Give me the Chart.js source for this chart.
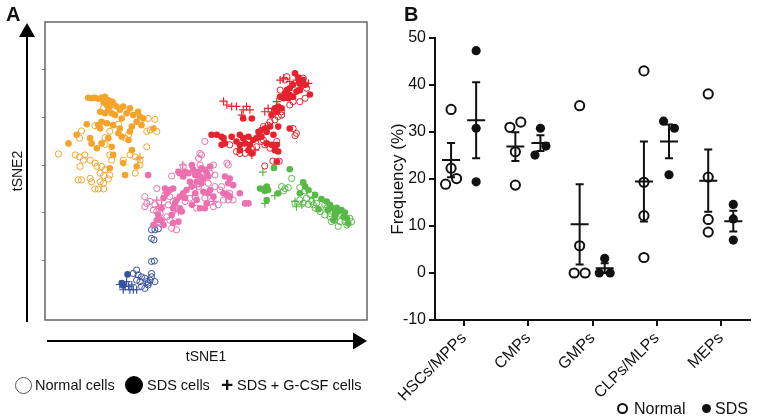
<!DOCTYPE html>
<html>
<head>
<meta charset="utf-8">
<script src="https://cdn.jsdelivr.net/npm/chart.js@4.4.1/dist/chart.umd.min.js"></script>
<style>
  body { margin: 0; background: #fff; font-family: "Liberation Sans", Arial, sans-serif; color: #111; }
  #wrap { position: relative; width: 761px; height: 420px; overflow: hidden; }
  canvas { position: absolute; top: 0; }
  #chartA { left: 0; }
  #chartB { left: 380px; }
  .lbl { position: absolute; white-space: nowrap; }
  .panel { font-weight: bold; font-size: 20px; line-height: 20px; }
  .legA { font-size: 14.5px; line-height: 16px; top: 377px; }
  .legB { font-size: 16px; line-height: 18px; top: 400px; }
  .dot { position: absolute; border-radius: 50%; box-sizing: border-box; }
</style>
</head>
<body>
<div id="wrap">
  <canvas id="chartA" width="380" height="420"></canvas>
  <canvas id="chartB" width="381" height="420"></canvas>

  <div class="lbl panel" style="left:6px; top:4px;">A</div>
  <div class="lbl panel" style="left:404px; top:4px;">B</div>

  <!-- legend A -->
  <div class="dot" style="left:15px; top:377px; width:17px; height:17px; border:1px solid #555;"></div>
  <div class="lbl legA" style="left:35px;">Normal cells</div>
  <div class="dot" style="left:125px; top:376px; width:18px; height:18px; background:#000;"></div>
  <div class="lbl legA" style="left:147px;">SDS cells</div>
  <div class="lbl" style="left:221px; top:374px; font-size:21px; line-height:22px; font-weight:bold;">+</div>
  <div class="lbl legA" style="left:237px;">SDS + G-CSF cells</div>

  <!-- legend B -->
  <div class="dot" style="left:617px; top:403px; width:11px; height:11px; border:2px solid #111;"></div>
  <div class="lbl legB" style="left:634px;">Normal</div>
  <div class="dot" style="left:702px; top:404px; width:9px; height:9px; background:#111;"></div>
  <div class="lbl legB" style="left:715px;">SDS</div>
</div>

<script>
// ---------- panel A: tSNE coordinates ----------
const orangeNormal = [
  [2.8,32.3],[7.6,37.1],[7.2,35.6],[12.2,41.8],[12.5,35.7],[12.5,34.3],[15.3,38.5],[17.4,36.3],
  [21.5,39.7],[22.9,39.5],[21.9,37.3],[23.3,37.0],[21.2,37.0],[21.2,33.8],[17.7,32.1],[18.8,31.7],
  [19.8,31.0],[6.3,32.1],[7.2,31.7],[8.0,31.0],[8.3,32.1],[7.3,29.7],[10.4,30.4],[10.8,29.7],
  [11.8,29.7],[12.5,29.0],[11.5,28.3],[12.2,27.8],[13.5,27.9],[13.2,27.1],[6.9,26.9],[7.6,26.9],
  [9.4,27.2],[9.7,26.5],[11.5,26.5],[12.2,26.2],[10.4,25.0],[11.1,25.0],[12.2,25.0],[18.8,28.3],
  [19.8,30.0],[16.3,31.0],[13.5,32.1],[13.9,31.0],[10.4,38.2],[13.5,37.0],[16.7,35.6],[9.4,31.0]
];
const orangeSDS = [
  [9.0,44.0],[9.7,43.9],[10.4,44.0],[11.1,43.8],[11.8,44.0],[12.5,44.2],[13.2,43.5],[13.9,43.2],
  [12.2,43.1],[12.9,42.5],[13.5,42.2],[14.2,42.9],[14.9,42.2],[15.6,41.5],[13.2,41.5],[13.9,40.8],
  [12.5,40.8],[11.5,41.1],[14.6,40.4],[16.3,42.2],[17.7,41.8],[17.0,40.8],[16.0,39.7],[18.4,40.4],
  [19.4,41.1],[19.8,40.1],[20.5,39.7],[19.1,39.0],[18.1,38.0],[20.1,38.3],[17.7,37.0],[15.6,37.6],
  [14.2,38.3],[12.9,38.7],[11.8,39.0],[11.1,38.3],[11.5,37.6],[8.7,38.5],[15.3,36.6],[16.0,35.9],
  [17.4,35.2],[13.2,35.6],[11.8,34.5],[9.4,35.6],[9.7,34.5],[6.6,36.3],[4.9,34.5],[10.8,33.5],
  [13.9,33.8],[14.2,32.1],[16.3,30.4],[18.1,33.1],[13.5,29.3],[16.7,27.9],[19.1,29.7],[22.6,37.6]
];
const orangeGCSF = [[19.4,31.3],[19.8,31.6]];

const redNormal = [
  [49.0,45.6],[50.0,47.7],[50.4,48.4],[53.8,48.1],[54.5,46.0],[53.1,43.2],[51.7,43.2],[51.0,42.5],
  [54.2,43.9],[48.6,40.1],[49.3,40.4],[47.9,39.4],[46.9,39.0],[46.5,38.3],[45.5,38.0],[44.8,36.3],
  [45.1,34.9],[45.8,34.2],[46.9,33.5],[40.6,32.4],[41.7,32.4],[48.3,34.9],[52.4,36.6],[52.1,36.1],
  [51.7,37.6],[49.3,41.1],[38.5,34.2],[44.1,33.8],[39.9,32.8],[45.5,35.2],[45.8,29.8],[47.5,30.8],
  [48.8,30.8]
];
const redSDS = [
  [52.1,49.1],[52.8,48.2],[53.8,47.7],[53.1,47.0],[54.2,46.7],[51.7,46.7],[51.0,46.0],[50.4,45.6],
  [50.0,44.9],[51.0,44.6],[50.7,43.9],[51.7,44.2],[52.4,45.3],[53.1,45.6],[49.7,43.9],[49.0,44.2],
  [55.2,44.7],[47.9,41.8],[48.6,42.2],[49.3,41.8],[48.3,41.1],[47.2,40.4],[43.1,39.7],[41.3,39.7],
  [51.0,37.6],[34.7,36.3],[35.8,36.3],[36.8,35.9],[37.2,35.6],[38.9,35.9],[40.6,36.3],[41.3,35.6],
  [42.4,35.9],[41.7,34.5],[40.6,34.2],[39.9,34.9],[42.7,34.2],[43.4,35.2],[44.1,35.6],[44.5,36.9],
  [45.1,37.3],[45.8,37.6],[46.9,38.0],[46.2,36.9],[47.6,36.3],[48.3,34.2],[47.2,34.2],[47.9,33.1],
  [48.6,32.8],[43.1,32.4],[42.4,33.1],[40.6,33.1],[36.8,34.2],[37.5,34.5],[48.6,38.0],[48.3,30.7],
  [46.2,34.5],[45.1,35.9]
];
const redGCSF = [
  [37.2,43.3],[37.9,42.5],[38.9,42.2],[39.9,42.2],[41.3,41.5],[42.0,42.2],[42.7,41.5],[41.0,40.4],
  [45.8,41.1],[46.5,41.8],[47.2,41.1],[49.0,47.7],[49.7,48.1],[53.1,46.0],[53.5,46.5],[54.9,47.0],
  [52.4,47.7],[43.8,33.1],[43.1,32.1],[48.3,43.2],[51.0,47.4]
];

const pinkNormal = [
  [33.3,34.9],[32.3,32.4],[32.0,31.4],[32.6,32.1],[28.8,29.7],[32.3,30.0],[35.1,30.0],[35.4,27.9],
  [37.9,30.4],[38.2,30.0],[26.4,27.7],[23.3,25.1],[25.0,23.8],[26.0,23.4],[26.7,22.4],[20.8,23.4],
  [21.2,22.0],[21.9,22.4],[22.9,21.7],[20.8,21.3],[22.6,20.6],[23.3,20.3],[24.0,19.9],[25.4,19.2],
  [26.4,16.8],[27.4,16.5],[26.0,18.5],[29.2,22.4],[30.2,23.1],[31.3,23.4],[32.0,25.5],[34.0,26.2],
  [35.4,25.5],[36.8,25.5],[37.2,22.7],[38.2,22.7],[39.2,22.7],[36.1,21.7],[34.7,22.4],[35.1,21.3],
  [33.3,23.1],[36.5,24.8],[38.5,24.1],[34.4,28.3],[31.6,21.0],[25.7,21.7],[23.6,18.2]
];
const pinkSDS = [
  [21.5,27.9],[27.8,28.6],[28.1,28.3],[29.2,28.6],[28.8,27.6],[29.9,28.3],[30.6,30.0],[30.9,29.0],
  [31.3,27.9],[32.0,28.6],[32.6,29.3],[33.3,29.0],[33.7,28.3],[32.3,27.6],[33.0,27.2],[34.0,27.6],
  [34.4,29.7],[31.6,26.5],[32.6,26.2],[30.6,25.5],[29.5,24.8],[28.8,24.1],[28.1,23.4],[29.2,23.1],
  [27.4,22.7],[27.1,22.0],[28.1,21.0],[28.5,20.3],[26.7,21.0],[26.0,24.8],[25.4,24.1],[25.0,25.1],
  [26.7,25.1],[24.3,21.0],[23.6,19.6],[23.3,18.5],[24.3,18.5],[24.7,17.5],[22.6,17.5],[26.4,19.6],
  [26.7,17.9],[27.8,18.2],[30.2,26.5],[31.3,24.1],[33.0,24.4],[34.0,24.1],[34.4,24.8],[35.1,23.4],
  [33.7,22.0],[33.3,21.0],[32.3,21.0],[37.5,27.6],[38.5,27.2],[38.2,26.2],[39.2,25.8],[37.2,24.1],
  [37.9,23.8],[38.5,23.4],[40.6,24.1],[41.7,22.0],[42.4,22.0],[31.6,22.7],[30.6,21.7],[24.7,23.1]
];
const pinkGCSF = [
  [28.7,30.0],[31.6,25.5],[23.3,22.7],[27.1,20.6],[24.3,21.7],[35.1,22.4],[37.9,24.1],[27.8,20.3],
  [23.6,21.3]
];

const greenNormal = [
  [49.3,25.5],[50.0,25.1],[50.7,25.3],[49.7,24.6],[53.1,25.3],[54.2,24.6],[55.2,23.9],[54.5,23.1],
  [55.6,22.4],[55.9,21.7],[53.1,22.7],[53.8,22.0],[54.9,21.8],[58.3,21.7],[59.4,19.9],[56.3,21.0],
  [57.3,20.3],[58.3,19.6],[59.4,19.2],[60.4,18.5],[61.5,18.2],[62.5,18.2],[63.5,18.9],[63.9,18.2],
  [61.1,17.2],[62.9,17.5],[59.7,18.2],[51.4,27.2],[58.7,21.0],[56.6,22.0],[52.1,22.0],[61.8,19.6]
];
const greenSDS = [
  [47.7,29.4],[51.0,29.1],[44.8,25.1],[45.5,25.0],[46.2,25.5],[46.5,24.8],[45.8,24.6],[46.2,22.7],
  [48.6,24.1],[53.8,26.4],[54.2,25.5],[54.9,24.8],[53.1,24.1],[56.3,23.8],[57.6,22.9],[58.7,22.4],
  [59.4,21.7],[57.0,20.8],[59.0,20.6],[60.1,21.0],[60.8,21.1],[61.1,20.3],[60.4,19.9],[61.8,20.6],
  [62.5,20.1],[62.2,19.2],[60.4,19.2],[60.1,18.5],[62.9,18.9],[63.2,17.8]
];
const greenGCSF = [[45.4,28.5],[45.8,22.0],[47.9,23.6],[52.1,22.4],[53.5,21.7],[55.9,23.2],[52.4,21.3]];

const blueNormal = [
  [22.2,16.5],[22.9,16.5],[23.6,16.7],[22.2,14.7],[22.7,14.4],[22.2,9.9],[22.8,10.0],[19.1,8.1],
  [18.4,7.4],[19.4,7.1],[20.1,6.7],[20.8,6.4],[21.2,5.7],[21.5,5.4],[21.9,6.0],[22.2,6.7],
  [22.2,7.4],[22.9,5.7],[19.1,6.0],[20.1,4.7],[20.8,4.3],[21.5,5.0],[19.8,5.7]
];
const blueSDS = [[17.2,7.2],[16.0,5.4],[16.3,4.9]];
const blueGCSF = [[15.6,5.1],[16.7,4.7],[17.4,4.7],[18.1,5.0],[18.4,4.0],[17.7,4.0],[19.1,4.0],[17.0,5.7],[16.3,4.0]];

// ---------- panel B: frequencies (%) per mouse ----------
const categories = ['HSCs/MPPs', 'CMPs', 'GMPs', 'CLPs/MLPs', 'MEPs'];
const normalValues = [
  [34.8, 22.3, 18.9, 20.1],
  [31.0, 32.1, 25.8, 18.7],
  [35.6, 5.8, 0, 0],
  [43.0, 19.3, 12.2, 3.3],
  [38.1, 20.4, 8.7, 11.4]
];
const sdsValues = [
  [47.3, 30.8, 19.4],
  [30.8, 25.1, 27.0],
  [3.1, 0, 0],
  [32.3, 30.8, 20.9],
  [14.6, 11.5, 7.0]
];

Chart.defaults.font.family = '"Liberation Sans", Arial, sans-serif';
Chart.defaults.color = '#111';

// ---------- chart A ----------
const clusters = [
  { color: '#f5a42b', normal: orangeNormal, sds: orangeSDS, gcsf: orangeGCSF },
  { color: '#e4232e', normal: redNormal, sds: redSDS, gcsf: redGCSF },
  { color: '#ec6fae', normal: pinkNormal, sds: pinkSDS, gcsf: pinkGCSF },
  { color: '#58b947', normal: greenNormal, sds: greenSDS, gcsf: greenGCSF },
  { color: '#34509f', normal: blueNormal, sds: blueSDS, gcsf: blueGCSF }
];
const toXY = arr => arr.map(p => ({ x: p[0], y: p[1] }));
const datasetsA = [];
clusters.forEach(c => {
  datasetsA.push({ data: toXY(c.normal), pointStyle: 'circle', pointRadius: 3.1, borderWidth: 1,
    borderColor: c.color, backgroundColor: 'rgba(255,255,255,0)' });
  datasetsA.push({ data: toXY(c.sds), pointStyle: 'circle', pointRadius: 3.3, borderWidth: 0,
    borderColor: c.color, backgroundColor: c.color });
  datasetsA.push({ data: toXY(c.gcsf), pointStyle: 'cross', pointRadius: 4, borderWidth: 1.2,
    borderColor: c.color, backgroundColor: c.color });
});

const frameAndArrows = {
  id: 'frameAndArrows',
  afterDraw(chart) {
    const { ctx, chartArea: a } = chart;
    ctx.save();
    ctx.strokeStyle = '#666';
    ctx.lineWidth = 1.5;
    ctx.strokeRect(a.left, a.top, a.right - a.left, a.bottom - a.top);
    ctx.strokeStyle = '#000';
    ctx.fillStyle = '#000';
    ctx.lineWidth = 2;
    // tSNE2 arrow
    const vx = a.left - 18;
    ctx.beginPath(); ctx.moveTo(vx, a.bottom + 2); ctx.lineTo(vx, a.top + 12); ctx.stroke();
    ctx.beginPath(); ctx.moveTo(vx, a.top + 1); ctx.lineTo(vx - 8, a.top + 15); ctx.lineTo(vx + 8, a.top + 15);
    ctx.closePath(); ctx.fill();
    // tSNE1 arrow
    const hy = a.bottom + 21;
    ctx.beginPath(); ctx.moveTo(a.left + 2, hy); ctx.lineTo(a.right - 10, hy); ctx.stroke();
    ctx.beginPath(); ctx.moveTo(a.right, hy); ctx.lineTo(a.right - 14, hy - 8.5); ctx.lineTo(a.right - 14, hy + 8.5);
    ctx.closePath(); ctx.fill();
    ctx.restore();
  }
};

new Chart(document.getElementById('chartA'), {
  type: 'scatter',
  data: { datasets: datasetsA },
  plugins: [frameAndArrows],
  options: {
    responsive: false,
    animation: false,
    layout: { padding: { top: 22, right: 13, left: 0, bottom: 0 } },
    plugins: { legend: { display: false }, tooltip: { enabled: false } },
    scales: {
      x: {
        min: 0, max: 67.1,
        ticks: { display: false },
        grid: { display: false },
        border: { display: false },
        title: { display: true, text: 'tSNE1', font: { size: 14 }, color: '#111', padding: { top: 0, bottom: 54.6 } },
        afterFit: s => { s.height = 100; }
      },
      y: {
        min: -2.3, max: 59.8,
        ticks: { display: false, stepSize: 10 },
        afterBuildTicks: s => { s.ticks = s.ticks.filter(t => Math.abs(t.value % 10) < 1e-6); },
        grid: { drawOnChartArea: false, drawTicks: true, tickLength: 3, color: '#777', lineWidth: 1 },
        border: { display: false },
        title: { display: true, text: 'tSNE2', font: { size: 14 }, color: '#111', padding: { top: 9.6, bottom: 0 } },
        afterFit: s => { s.width = 45; }
      }
    }
  }
});

// ---------- chart B ----------
const normalShift = -0.2;
const sdsShift = 0.19;

// spread points that would overlap horizontally (like a column scatter)
function spread(vals) {
  const order = vals.map((v, i) => i).sort((a, b) => vals[a] - vals[b]);
  const off = vals.map(() => 0);
  let i = 0;
  while (i < order.length) {
    let j = i;
    while (j + 1 < order.length && vals[order[j + 1]] - vals[order[j]] < 2) j++;
    const grp = order.slice(i, j + 1).sort((a, b) => a - b);
    grp.forEach((idx, k) => { off[idx] = (k - (grp.length - 1) / 2) * 0.17; });
    i = j + 1;
  }
  return off;
}
function points(groups, shift) {
  const out = [];
  groups.forEach((vals, c) => {
    const off = spread(vals);
    vals.forEach((v, k) => out.push({ x: c + shift + off[k], y: v }));
  });
  return out;
}

const meanSem = {
  id: 'meanSem',
  afterDatasetsDraw(chart) {
    const { ctx, scales: { x, y } } = chart;
    ctx.save();
    ctx.strokeStyle = '#111';
    ctx.lineWidth = 2;
    [[normalValues, normalShift], [sdsValues, sdsShift]].forEach(([groups, shift]) => {
      groups.forEach((vals, c) => {
        const n = vals.length;
        const mean = vals.reduce((s, v) => s + v, 0) / n;
        const sd = Math.sqrt(vals.reduce((s, v) => s + (v - mean) ** 2, 0) / (n - 1));
        const sem = sd / Math.sqrt(n);
        const cx = x.getPixelForValue(c + shift);
        const ym = y.getPixelForValue(mean);
        const yt = y.getPixelForValue(mean + sem);
        const yb = y.getPixelForValue(mean - sem);
        ctx.beginPath();
        ctx.moveTo(cx, yt); ctx.lineTo(cx, yb);
        ctx.moveTo(cx - 4, yt); ctx.lineTo(cx + 4, yt);
        ctx.moveTo(cx - 4, yb); ctx.lineTo(cx + 4, yb);
        ctx.moveTo(cx - 9, ym); ctx.lineTo(cx + 9, ym);
        ctx.stroke();
      });
    });
    ctx.restore();
  }
};

new Chart(document.getElementById('chartB'), {
  type: 'scatter',
  data: {
    datasets: [
      { label: 'Normal', data: points(normalValues, normalShift), pointStyle: 'circle', pointRadius: 4.6,
        borderWidth: 2, borderColor: '#111', backgroundColor: 'rgba(255,255,255,0)' },
      { label: 'SDS', data: points(sdsValues, sdsShift), pointStyle: 'circle', pointRadius: 4.6,
        borderWidth: 0, borderColor: '#111', backgroundColor: '#111' }
    ]
  },
  plugins: [meanSem],
  options: {
    responsive: false,
    animation: false,
    layout: { padding: { top: 38, right: 11, left: 0, bottom: 0 } },
    plugins: { legend: { display: false }, tooltip: { enabled: false } },
    scales: {
      x: {
        type: 'linear', min: -0.45, max: 4.45,
        afterBuildTicks: s => { s.ticks = categories.map((c, i) => ({ value: i })); },
        ticks: { autoSkip: false, minRotation: 45, maxRotation: 45, padding: 3,
          font: { size: 16 }, color: '#111', callback: v => categories[v] },
        grid: { drawOnChartArea: false, drawTicks: true, tickLength: 6, lineWidth: 2, color: '#111' },
        border: { display: true, width: 2, color: '#111' },
        afterFit: s => { s.height = 100; }
      },
      y: {
        min: -10, max: 50,
        ticks: { stepSize: 10, padding: 3, font: { size: 16 }, color: '#111' },
        grid: { drawOnChartArea: false, drawTicks: true, tickLength: 6, lineWidth: 2, color: '#111' },
        border: { display: true, width: 2, color: '#111' },
        title: { display: true, text: 'Frequency (%)', font: { size: 17 }, color: '#111', padding: { top: 7.8, bottom: 0 } },
        afterFit: s => { s.width = 55; }
      }
    }
  }
});
</script>
</body>
</html>
